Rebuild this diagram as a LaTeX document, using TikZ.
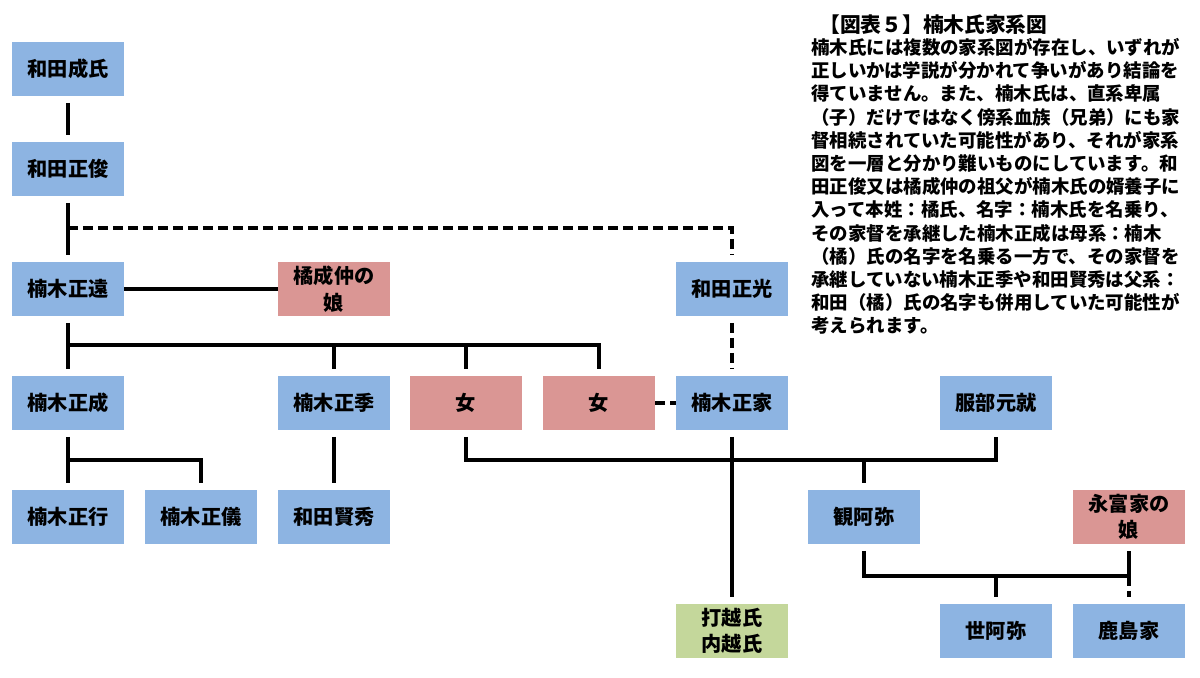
\documentclass[tikz,border=0pt]{standalone}
\usepackage{fontspec}
\setmainfont{Noto Sans CJK JP}
\usetikzlibrary{positioning}
\definecolor{sky}{RGB}{141,180,226}
\definecolor{rose}{RGB}{218,150,148}
\definecolor{sage}{RGB}{196,215,155}
\tikzset{
  person/.style={fill=#1,minimum width=22.4mm,minimum height=10.8mm,inner sep=1pt,
    align=center,font=\bfseries\fontsize{11.5}{15}\selectfont},
  person/.default=sky,
  kin/.style={line width=2.5pt},
  kin gap/.style={kin,shorten <=1.3mm,shorten >=1.3mm},
  kin drop/.style={kin,shorten >=1.3mm},
  kin dashed/.style={line width=1.9pt,dash pattern=on 2mm off 1mm},
  note/.style={anchor=north west,inner sep=0pt,align=left},
}
\begin{document}
\begin{tikzpicture}[x=0.02cm,y=-0.02cm]
  \useasboundingbox (0,0) rectangle (1200,678);
  % people
  \node[person] (nariuji) at (68,69) {和田成氏};
  \node[person] (masatoshi) at (68,169) {和田正俊};
  \node[person] (masato) at (68,289) {楠木正遠};
  \node[person=rose] (narinaka) at (334,289) {橘成仲の\\娘};
  \node[person] (masamitsu) at (732,289) {和田正光};
  \node[person] (masashige) at (68,403) {楠木正成};
  \node[person] (masasue) at (334,403) {楠木正季};
  \node[person=rose] (onnaA) at (466,403) {女};
  \node[person=rose] (onnaB) at (599,403) {女};
  \node[person] (masaie) at (732,403) {楠木正家};
  \node[person] (hattori) at (996,403) {服部元就};
  \node[person] (masatsura) at (68,517) {楠木正行};
  \node[person] (masanori) at (201,517) {楠木正儀};
  \node[person] (katahide) at (334,517) {和田賢秀};
  \node[person] (kanami) at (864,517) {観阿弥};
  \node[person=rose] (nagatomi) at (1129,517) {永富家の\\娘};
  \node[person=sage] (uchikoshi) at (732,631) {打越氏\\内越氏};
  \node[person] (zeami) at (996,631) {世阿弥};
  \node[person] (kashima) at (1129,631) {鹿島家};
  % bars
  \coordinate (adopt) at (0,228);
  \coordinate (barA) at (0,345);
  \coordinate (barB) at (0,460);
  \coordinate (barC) at (0,576);
  % lines
  \draw[kin gap] (nariuji) -- (masatoshi);
  \draw[kin gap] (masatoshi) -- (masato);
  \draw[kin dashed,shorten >=1.3mm] (masatoshi.south |- adopt) -| (masamitsu.north);
  \draw[kin] (masato) -- (narinaka);
  \draw[kin gap] (masato.south) -- (masato.south |- barA) -| (onnaB.north);
  \draw[kin drop] (masato.south |- barA) -- (masashige.north);
  \draw[kin drop] (masasue.north |- barA) -- (masasue.north);
  \draw[kin drop] (onnaA.north |- barA) -- (onnaA.north);
  \draw[kin dashed,shorten <=1.3mm,shorten >=1.3mm] (masamitsu) -- (masaie);
  \draw[kin dashed] (onnaB) -- (masaie);
  \draw[kin gap] (masashige.south) -- (masashige.south |- barB) -| (masanori.north);
  \draw[kin drop] (masashige.south |- barB) -- (masatsura.north);
  \draw[kin gap] (masasue) -- (katahide);
  \draw[kin gap] (onnaA.south) -- (onnaA.south |- barB) -| (hattori.south);
  \draw[kin drop] (kanami.north |- barB) -- (kanami.north);
  \draw[kin gap] (masaie) -- (uchikoshi);
  \draw[kin gap] (kanami.south) -- (kanami.south |- barC) -| (nagatomi.south);
  \draw[kin drop] (zeami.north |- barC) -- (zeami.north);
  \draw[kin dashed,shorten >=1.3mm] (kashima.north |- barC) -- (kashima.north);
  % text
  \node[note,font=\bfseries\fontsize{11.8}{14}\selectfont] (title) at (819,14) {【図表５】楠木氏家系図};
  \node[note,font=\bfseries\fontsize{10.5}{13.2}\selectfont] (body) at (811,38) {%
    楠木氏には複数の家系図が存在し、いずれが\\
    正しいかは学説が分かれて争いがあり結論を\\
    得ていません。また、楠木氏は、直系卑属\\
    （子）だけではなく傍系血族（兄弟）にも家\\
    督相続されていた可能性があり、それが家系\\
    図を一層と分かり難いものにしています。和\\
    田正俊又は橘成仲の祖父が楠木氏の婿養子に\\
    入って本姓：橘氏、名字：楠木氏を名乗り、\\
    その家督を承継した楠木正成は母系：楠木\\
    （橘）氏の名字を名乗る一方で、その家督を\\
    承継していない楠木正季や和田賢秀は父系：\\
    和田（橘）氏の名字も併用していた可能性が\\
    考えられます。};
\end{tikzpicture}
\end{document}
